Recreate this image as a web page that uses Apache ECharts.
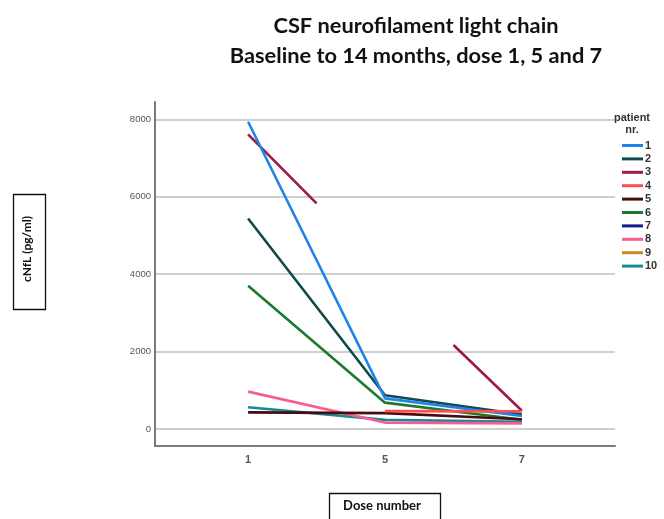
<!DOCTYPE html>
<html>
<head>
<meta charset="utf-8">
<script src="https://cdn.jsdelivr.net/npm/echarts@6/dist/echarts.min.js"></script>
<style>
html,body{margin:0;padding:0;background:#fff;}
#c{width:664px;height:519px;}
</style>
</head>
<body>
<div id="c"></div>
<script>
// Visit categories (only 1, 5 and 7 are labelled on the axis)
const doseCats = ['1', '3', '5', '6', '7'];
const shownDoses = ['1', '5', '7'];
const yTicks = [0, 2000, 4000, 6000, 8000];

const patients = ['1', '2', '3', '4', '5', '6', '7', '8', '9', '10'];
const colors = ['#1f84e8', '#0f4a4c', '#9c1a4b', '#ff4d4f', '#4a0b0e', '#1b7a30', '#0c1f8e', '#f75d8d', '#c98a1a', '#17899a'];

// cNfL values per patient (null = no measurement)
const p1 = [7940, null, 790, null, 335];
const p2 = [5440, null, 870, null, 370];
const p3 = [7615, 5830, null, 2170, 470];
const p4 = [null, null, 460, null, 455];
const p5 = [430, null, 410, null, 250];
const p6 = [3700, null, 680, null, 240];
const p7 = [null, null, null, null, null];
const p8 = [965, null, 165, null, 145];
const p9 = [null, null, null, null, null];
const p10 = [560, null, 235, null, 185];
const values = [p1, p2, p3, p4, p5, p6, p7, p8, p9, p10];

const chart = echarts.init(document.getElementById('c'), null, {renderer: 'canvas'});

const series = patients.map((name, k) => ({
  name: name,
  type: 'line',
  symbol: 'none',
  connectNulls: k !== 2,
  lineStyle: {width: 2.6, color: colors[k]},
  itemStyle: {color: colors[k]},
  z: 2 + (k === 3 ? 12 : 10 - k),
  data: values[k].map((v, i) => [i, v])
}));

chart.setOption({
  animation: false,
  backgroundColor: '#fff',
  title: [
    {
      text: 'CSF neurofilament light chain\nBaseline to 14 months, dose 1, 5 and 7',
      left: 411, top: 6, textAlign: 'center',
      textStyle: {fontFamily: 'Lato', fontWeight: 'bold', fontSize: 21.8, lineHeight: 30, color: '#111'}
    },
    {
      text: 'patient\nnr.',
      left: 627, top: 107, textAlign: 'center',
      textStyle: {fontFamily: 'Liberation Sans', fontWeight: 'bold', fontSize: 11, lineHeight: 12, color: '#333'}
    }
  ],
  legend: {
    orient: 'vertical',
    left: 622, top: 139,
    itemWidth: 21, itemHeight: 3,
    itemGap: 0.4,
    icon: 'rect',
    data: patients,
    textStyle: {fontFamily: 'Liberation Sans', fontWeight: 'bold', fontSize: 11, lineHeight: 13, color: '#333', padding: [0, 0, 0, -3]},
    padding: 0
  },
  grid: {left: 155, right: 49, top: 102, bottom: 73, containLabel: false},
  xAxis: {
    type: 'value',
    min: -1.36, max: 5.36,
    splitLine: {show: false},
    axisTick: {show: false},
    axisLine: {show: true, onZero: false, lineStyle: {color: '#7a7a7a', width: 2}},
    axisLabel: {
      customValues: shownDoses.map(d => doseCats.indexOf(d)),
      formatter: v => doseCats[Math.round(v)],
      margin: 8,
      fontFamily: 'Liberation Sans', fontWeight: 'bold', fontSize: 11, color: '#555'
    }
  },
  yAxis: {
    type: 'value',
    min: -440, max: 8450,
    axisLine: {show: true, onZero: false, lineStyle: {color: '#7a7a7a', width: 2}},
    axisTick: {show: false, customValues: yTicks},
    axisLabel: {
      customValues: yTicks,
      formatter: v => String(v),
      margin: 4,
      fontFamily: 'Liberation Sans', fontSize: 9.5, color: '#555'
    },
    splitLine: {show: true, lineStyle: {color: '#cfcfcf', width: 2}}
  },
  graphic: [
    {type: 'rect', left: 11, top: 192, shape: {width: 32, height: 115}, style: {fill: 'none', stroke: '#111', lineWidth: 1.3}},
    {type: 'text', x: 27, y: 249, rotation: Math.PI / 2, style: {text: 'cNfL (pg/ml)', fill: '#111', font: 'bold 12px Lato', align: 'center', verticalAlign: 'middle'}},
    {type: 'rect', left: 327, top: 491, shape: {width: 111, height: 40}, style: {fill: 'none', stroke: '#111', lineWidth: 1.3}},
    {type: 'text', x: 382, y: 506, style: {text: 'Dose number', fill: '#111', font: 'bold 13px Lato', align: 'center', verticalAlign: 'middle'}}
  ],
  series: series
});
</script>
</body>
</html>
